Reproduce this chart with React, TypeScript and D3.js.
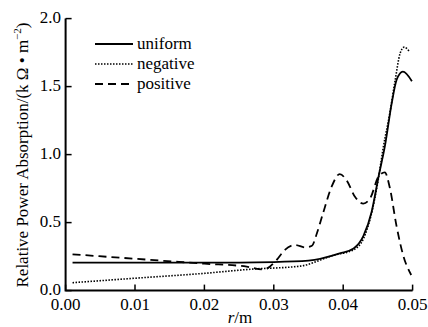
import * as d3 from 'd3';

// radius (m) and relative power absorption for each profile
const uniformR = [0.001, 0.01, 0.02, 0.03, 0.035, 0.0395, 0.0415, 0.0429, 0.0441, 0.0451, 0.046, 0.047, 0.0477, 0.0486, 0.0499];
const uniformV = [0.205, 0.205, 0.205, 0.21, 0.22, 0.274, 0.31, 0.4, 0.58, 0.84, 1.06, 1.38, 1.55, 1.61, 1.54];

const negativeR = [0.001, 0.01, 0.02, 0.0266, 0.0338, 0.0386, 0.0415, 0.0429, 0.044, 0.045, 0.0458, 0.0467, 0.0475, 0.0482, 0.0488, 0.0495];
const negativeV = [0.058, 0.091, 0.127, 0.157, 0.18, 0.26, 0.3, 0.38, 0.55, 0.8, 1.06, 1.3, 1.55, 1.745, 1.79, 1.76];

const positiveR = [0.001, 0.01, 0.02, 0.0261, 0.0285, 0.0304, 0.0316, 0.0331, 0.0345, 0.0355, 0.0362, 0.0371, 0.0383, 0.0395, 0.0405, 0.0417, 0.0429, 0.0439, 0.0451, 0.046, 0.0467, 0.0477, 0.0487, 0.0498];
const positiveV = [0.267, 0.234, 0.198, 0.176, 0.155, 0.225, 0.3, 0.335, 0.318, 0.33, 0.42, 0.57, 0.76, 0.857, 0.81, 0.69, 0.64, 0.68, 0.84, 0.87, 0.76, 0.47, 0.25, 0.115];

const xTicks = [0, 0.01, 0.02, 0.03, 0.04, 0.05];
const yTicks = [0, 0.5, 1.0, 1.5, 2.0];

const seriesNames = ['uniform', 'negative', 'positive'];
const seriesDash = [undefined, '1.5,1.5', '8,5'];

const width = 428;
const height = 327;
const ts = { fontFamily: '"Times New Roman"' };
const fs = 17;

const x = d3.scaleLinear().domain([0, 0.05]).range([65.6, 412.6]);
const y = d3.scaleLinear().domain([0, 2]).range([290.6, 18.6]);

const line = d3.line<[number, number]>()
  .x(d => x(d[0]))
  .y(d => y(d[1]))
  .curve(d3.curveMonotoneX);

const series = [
  d3.zip(uniformR, uniformV),
  d3.zip(negativeR, negativeV),
  d3.zip(positiveR, positiveV),
];

const App = () => {
  return (
    <svg width={width} height={height} style={{ position: 'absolute', left: 0, top: 0 }}>
      {/* axes */}
      <path
        d={`M${x(0)},${y(2)}V${y(0)}H${x(0.05)}`}
        fill="none"
        stroke="#000"
        strokeWidth={2}
      />
      {xTicks.map(t => (
        <g key={'x' + t}>
          <line x1={x(t)} x2={x(t)} y1={y(0)} y2={y(0) - 6} stroke="#000" strokeWidth={1.5} />
          <text x={x(t)} y={310} textAnchor="middle" fontSize={fs} style={ts}>{t.toFixed(2)}</text>
        </g>
      ))}
      {yTicks.map(t => (
        <g key={'y' + t}>
          <line x1={x(0)} x2={x(0) + 6} y1={y(t)} y2={y(t)} stroke="#000" strokeWidth={1.5} />
          <text x={61} y={y(t) + 4} textAnchor="end" fontSize={fs} style={ts}>{t.toFixed(1)}</text>
        </g>
      ))}

      {/* axis titles */}
      <text x={240} y={323} textAnchor="middle" fontSize={fs} style={ts}>
        <tspan fontStyle="italic">r</tspan>
        <tspan>/m</tspan>
      </text>
      <text transform="translate(28,155) rotate(-90)" textAnchor="middle" fontSize={fs} style={ts}>
        <tspan>Relative Power Absorption/(k Ω • m</tspan>
        <tspan dy={-7} fontSize={11}>−2</tspan>
        <tspan dy={7}>)</tspan>
      </text>

      {/* curves */}
      {series.map((pts, i) => (
        <path
          key={seriesNames[i]}
          d={line(pts as [number, number][]) || ''}
          fill="none"
          stroke="#000"
          strokeWidth={i === 1 ? 1.6 : 1.8}
          strokeDasharray={seriesDash[i]}
        />
      ))}

      {/* legend */}
      {seriesNames.map((name, i) => {
        const ly = 44 + i * 20;
        return (
          <g key={'lg' + name}>
            <line
              x1={95}
              x2={133}
              y1={ly}
              y2={ly}
              stroke="#000"
              strokeWidth={i === 1 ? 1.6 : 1.8}
              strokeDasharray={seriesDash[i]}
            />
            <text x={137} y={ly + 5} fontSize={fs} style={ts}>{name}</text>
          </g>
        );
      })}
    </svg>
  );
};

export default App;
